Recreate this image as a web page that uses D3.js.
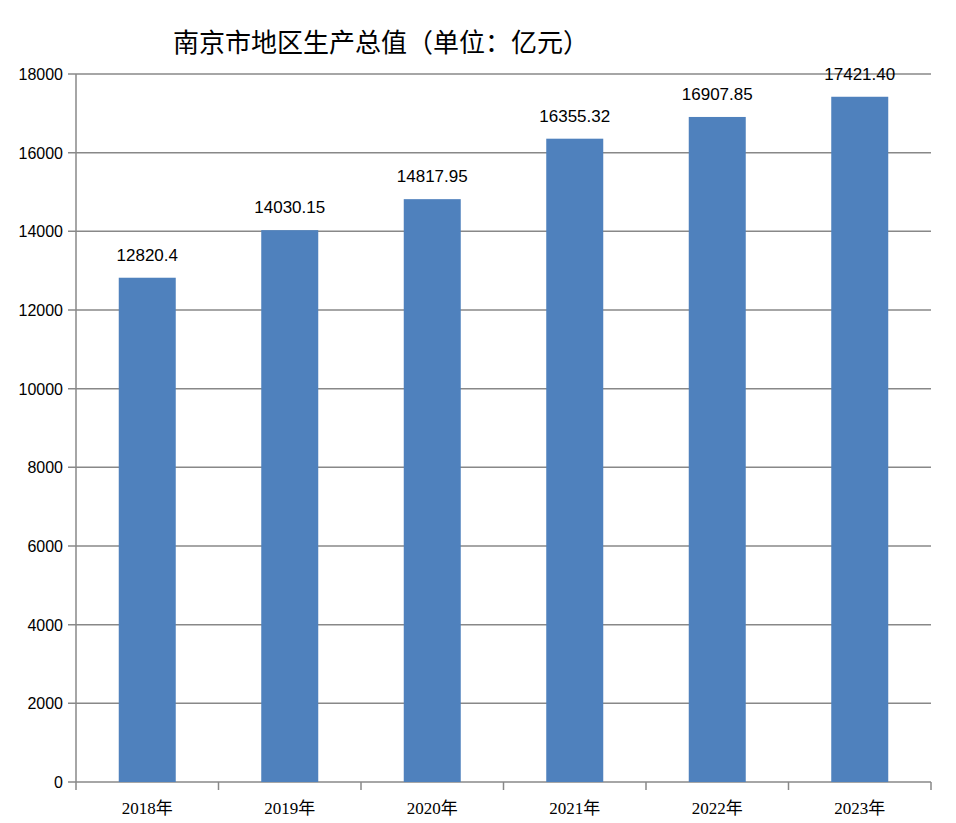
<!DOCTYPE html>
<html><head><meta charset="utf-8">
<script src="https://cdn.jsdelivr.net/npm/d3@7"></script>
<style>body{margin:0;background:#fff}</style></head>
<body><svg id="c" width="956" height="823"></svg>
<script>
const categories=["2018年","2019年","2020年","2021年","2022年","2023年"];
const values=[12820.4,14030.15,14817.95,16355.32,16907.85,17421.40];
const labels=["12820.4","14030.15","14817.95","16355.32","16907.85","17421.40"];
const yTicks=[0,2000,4000,6000,8000,10000,12000,14000,16000,18000];
const svg=d3.select("#c");
const L=76,R=931,T=74,B=782;
const x=d3.scaleBand().domain(categories).range([L,R]);
const y=d3.scaleLinear().domain([0,18000]).range([B,T]);
const font="'Noto Sans CJK SC','Liberation Sans',sans-serif";
svg.append("g").selectAll("line").data(yTicks).join("line")
 .attr("x1",L-8).attr("x2",R).attr("y1",d=>y(d)).attr("y2",d=>y(d))
 .attr("stroke","#888").attr("stroke-width",1.5);
svg.append("g").selectAll("text").data(yTicks).join("text")
 .attr("x",63).attr("y",d=>y(d)+6).attr("text-anchor","end")
 .attr("font-family","'Liberation Sans',sans-serif").attr("font-size",16).text(d=>d);
svg.append("line").attr("x1",L).attr("x2",L).attr("y1",T).attr("y2",B).attr("stroke","#888").attr("stroke-width",1.5);
const bounds=categories.map(c=>x(c)).concat([R]);
svg.append("g").selectAll("line").data(bounds).join("line")
 .attr("x1",d=>d).attr("x2",d=>d).attr("y1",B).attr("y2",B+8).attr("stroke","#888").attr("stroke-width",1.5);
const bw=x.bandwidth()*0.4;
svg.append("g").selectAll("rect").data(values).join("rect")
 .attr("x",(d,i)=>x(categories[i])+x.bandwidth()/2-bw/2).attr("width",bw)
 .attr("y",d=>y(d)).attr("height",d=>B-y(d)).attr("fill","#4f81bd");
svg.append("g").selectAll("text").data(values).join("text")
 .attr("x",(d,i)=>x(categories[i])+x.bandwidth()/2).attr("y",d=>y(d)-17)
 .attr("text-anchor","middle").attr("font-family","'Liberation Sans',sans-serif").attr("font-size",17)
 .text((d,i)=>labels[i]);
svg.append("g").selectAll("text").data(categories).join("text")
 .attr("x",d=>x(d)+x.bandwidth()/2).attr("y",814).attr("text-anchor","middle")
 .attr("font-family","'Liberation Serif','Noto Sans CJK SC',serif").attr("font-size",17).text(d=>d);
svg.append("text").attr("x",381).attr("y",52).attr("text-anchor","middle")
 .attr("font-family",font).attr("font-size",26).text("南京市地区生产总值（单位：亿元）");
</script></body></html>
